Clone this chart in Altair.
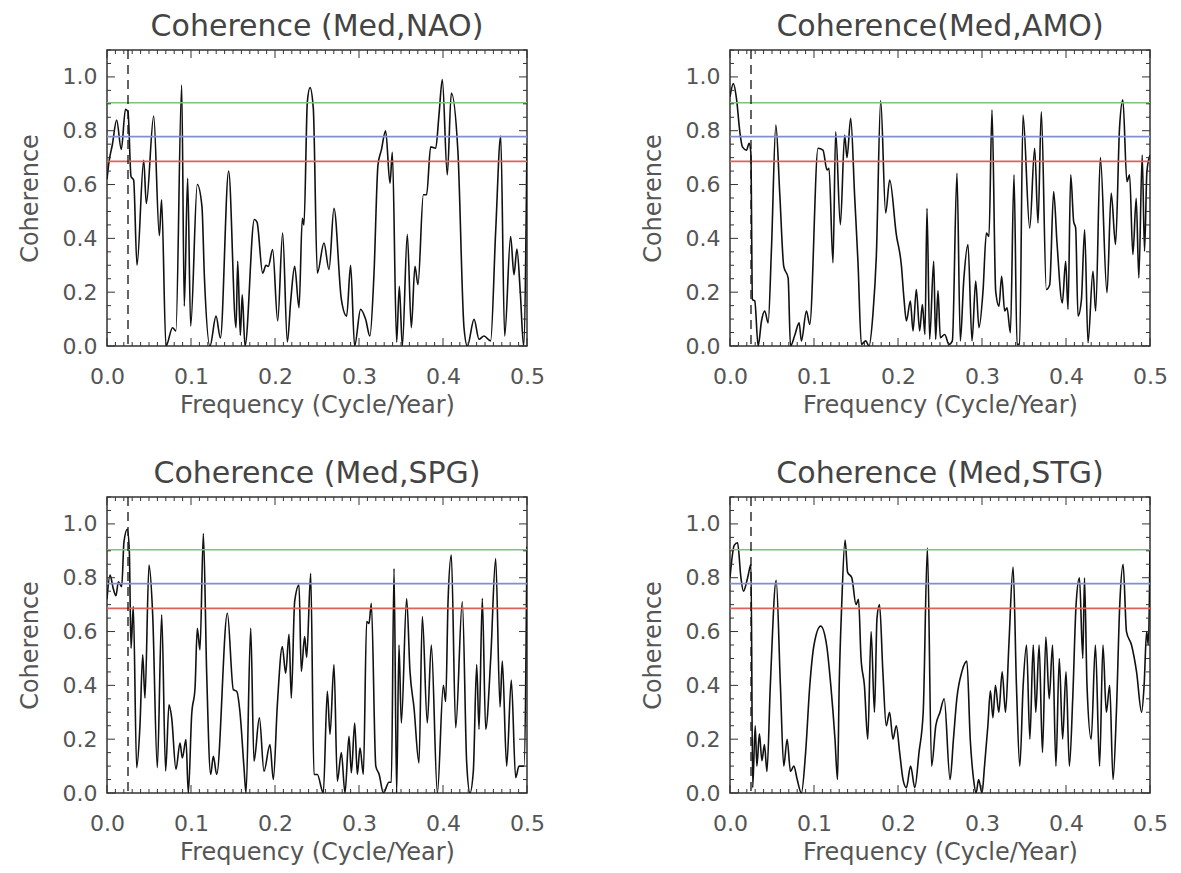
import altair as alt
import pandas as pd

FONT = "DejaVu Sans"
TEXT = "#555555"
W, H = 420, 296

TITLES = ["Coherence (Med,NAO)", "Coherence(Med,AMO)", "Coherence (Med,SPG)", "Coherence (Med,STG)"]

nao_f = [0.0, 0.0024, 0.0063, 0.0115, 0.017, 0.022, 0.025, 0.0286, 0.0317, 0.0357, 0.0437, 0.0468, 0.0556, 0.0623, 0.065, 0.0702, 0.078, 0.082, 0.0889, 0.092, 0.096, 0.0996, 0.1075, 0.113, 0.116, 0.1226, 0.1298, 0.135, 0.1448, 0.1536, 0.1556, 0.1587, 0.161, 0.1643, 0.1754, 0.1786, 0.1853, 0.1893, 0.192, 0.1972, 0.2032, 0.2091, 0.2147, 0.2187, 0.2234, 0.2286, 0.2325, 0.2345, 0.2385, 0.2417, 0.2456, 0.2504, 0.2583, 0.2643, 0.2702, 0.279, 0.2853, 0.29, 0.2948, 0.3019, 0.3079, 0.313, 0.3178, 0.3226, 0.3266, 0.3317, 0.3369, 0.3397, 0.3448, 0.348, 0.3516, 0.3575, 0.3623, 0.3666, 0.3702, 0.3766, 0.3805, 0.3853, 0.3913, 0.3952, 0.3992, 0.4051, 0.4099, 0.4178, 0.425, 0.429, 0.437, 0.4429, 0.4488, 0.4567, 0.4627, 0.4687, 0.4734, 0.4805, 0.4845, 0.488, 0.492, 0.496, 0.5]
nao_c = [0.62, 0.685, 0.747, 0.84, 0.73, 0.88, 0.87, 0.63, 0.617, 0.30, 0.69, 0.53, 0.855, 0.41, 0.543, 0.0, 0.068, 0.056, 0.97, 0.148, 0.623, 0.074, 0.60, 0.52, 0.253, 0.0, 0.111, 0.03, 0.65, 0.068, 0.315, 0.04, 0.19, 0.0, 0.47, 0.46, 0.271, 0.30, 0.296, 0.358, 0.093, 0.42, 0.015, 0.167, 0.296, 0.142, 0.475, 0.45, 0.907, 0.96, 0.883, 0.271, 0.383, 0.284, 0.512, 0.173, 0.111, 0.30, 0.0, 0.136, 0.099, 0.037, 0.265, 0.673, 0.728, 0.80, 0.605, 0.72, 0.015, 0.222, 0.0, 0.414, 0.068, 0.296, 0.228, 0.562, 0.562, 0.74, 0.735, 0.858, 0.99, 0.636, 0.94, 0.72, 0.068, 0.0, 0.099, 0.025, 0.037, 0.019, 0.426, 0.78, 0.037, 0.407, 0.265, 0.36, 0.2, 0.0, 0.75]

amo_f = [0.0, 0.004, 0.0077, 0.0117, 0.0148, 0.0196, 0.0228, 0.0248, 0.0267, 0.0295, 0.0335, 0.0375, 0.0414, 0.0454, 0.0494, 0.0546, 0.0593, 0.064, 0.0692, 0.072, 0.0771, 0.0823, 0.085, 0.091, 0.0949, 0.1048, 0.1107, 0.1155, 0.1179, 0.1226, 0.1258, 0.1314, 0.1365, 0.1393, 0.1437, 0.1484, 0.1524, 0.1564, 0.1616, 0.1655, 0.1702, 0.1742, 0.1794, 0.1853, 0.1901, 0.198, 0.204, 0.207, 0.21, 0.2147, 0.2179, 0.2218, 0.2258, 0.229, 0.2321, 0.2345, 0.2377, 0.2425, 0.2448, 0.2476, 0.2504, 0.2556, 0.2607, 0.2647, 0.2702, 0.2742, 0.2782, 0.2833, 0.2881, 0.2925, 0.2964, 0.3012, 0.3052, 0.3083, 0.3119, 0.3163, 0.3202, 0.3234, 0.327, 0.3298, 0.3338, 0.3381, 0.3417, 0.3448, 0.3488, 0.3568, 0.3627, 0.3667, 0.3706, 0.3766, 0.3806, 0.3853, 0.3893, 0.3956, 0.3996, 0.4024, 0.4056, 0.4091, 0.4115, 0.4143, 0.4183, 0.4222, 0.4262, 0.4321, 0.4353, 0.4409, 0.4488, 0.4538, 0.459, 0.4637, 0.4677, 0.4725, 0.4757, 0.4796, 0.4836, 0.4867, 0.4907, 0.4935, 0.4963, 0.5]
amo_c = [0.926, 0.975, 0.92, 0.796, 0.74, 0.728, 0.753, 0.72, 0.173, 0.167, 0.0, 0.093, 0.13, 0.086, 0.364, 0.821, 0.562, 0.296, 0.253, 0.0, 0.04, 0.086, 0.019, 0.13, 0.08, 0.735, 0.728, 0.654, 0.66, 0.309, 0.796, 0.451, 0.784, 0.70, 0.846, 0.556, 0.309, 0.006, 0.019, 0.0, 0.12, 0.333, 0.912, 0.494, 0.617, 0.414, 0.30, 0.18, 0.093, 0.167, 0.056, 0.21, 0.056, 0.154, 0.043, 0.512, 0.025, 0.315, 0.025, 0.206, 0.031, 0.043, 0.006, 0.019, 0.642, 0.019, 0.241, 0.377, 0.019, 0.241, 0.068, 0.204, 0.42, 0.407, 0.877, 0.204, 0.148, 0.259, 0.13, 0.142, 0.049, 0.636, 0.006, 0.006, 0.858, 0.438, 0.735, 0.457, 0.87, 0.21, 0.228, 0.574, 0.383, 0.16, 0.315, 0.136, 0.636, 0.463, 0.438, 0.111, 0.17, 0.432, 0.012, 0.278, 0.13, 0.70, 0.198, 0.568, 0.377, 0.809, 0.915, 0.611, 0.636, 0.34, 0.549, 0.253, 0.71, 0.352, 0.648, 0.71]

spg_f = [0.0, 0.0036, 0.0075, 0.0107, 0.0135, 0.0175, 0.0202, 0.0242, 0.0266, 0.0286, 0.0313, 0.0353, 0.0393, 0.0425, 0.0452, 0.05, 0.0544, 0.0599, 0.0651, 0.0698, 0.0738, 0.077, 0.0821, 0.0869, 0.0897, 0.094, 0.0968, 0.1008, 0.1048, 0.1075, 0.1107, 0.1147, 0.1187, 0.1234, 0.1266, 0.1306, 0.1433, 0.1504, 0.1544, 0.1583, 0.1631, 0.1655, 0.1711, 0.175, 0.1814, 0.1869, 0.194, 0.198, 0.2028, 0.2087, 0.2127, 0.2167, 0.2194, 0.2234, 0.2286, 0.2313, 0.2353, 0.2377, 0.2425, 0.2464, 0.2504, 0.2575, 0.2623, 0.2655, 0.2702, 0.2742, 0.279, 0.2833, 0.2881, 0.2909, 0.2949, 0.298, 0.3012, 0.3052, 0.3091, 0.3119, 0.3147, 0.32, 0.324, 0.329, 0.3357, 0.3385, 0.3417, 0.3448, 0.3476, 0.3504, 0.3567, 0.3607, 0.3655, 0.3714, 0.3754, 0.3813, 0.3861, 0.3933, 0.4004, 0.4032, 0.406, 0.4099, 0.4151, 0.423, 0.4282, 0.4321, 0.4361, 0.4401, 0.4429, 0.4468, 0.4508, 0.4568, 0.4627, 0.4679, 0.4706, 0.4758, 0.4813, 0.4865, 0.4905, 0.4964, 0.5]
spg_c = [0.72, 0.81, 0.759, 0.733, 0.785, 0.767, 0.933, 0.98, 0.896, 0.538, 0.693, 0.094, 0.255, 0.514, 0.353, 0.847, 0.662, 0.094, 0.662, 0.082, 0.328, 0.279, 0.088, 0.186, 0.13, 0.199, 0.0, 0.291, 0.39, 0.612, 0.532, 0.964, 0.44, 0.069, 0.136, 0.069, 0.668, 0.384, 0.378, 0.30, 0.094, 0.0, 0.612, 0.118, 0.279, 0.081, 0.18, 0.05, 0.328, 0.544, 0.445, 0.59, 0.353, 0.711, 0.773, 0.452, 0.581, 0.504, 0.816, 0.069, 0.069, 0.0, 0.378, 0.218, 0.477, 0.044, 0.15, 0.0, 0.211, 0.075, 0.26, 0.069, 0.168, 0.069, 0.637, 0.63, 0.705, 0.1, 0.069, 0.0, 0.04, 0.04, 0.834, 0.0, 0.55, 0.26, 0.723, 0.452, 0.316, 0.112, 0.656, 0.26, 0.55, 0.0, 0.40, 0.34, 0.711, 0.884, 0.243, 0.711, 0.112, 0.0, 0.081, 0.477, 0.237, 0.723, 0.237, 0.50, 0.871, 0.32, 0.49, 0.1, 0.42, 0.057, 0.1, 0.1, 0.915]

stg_f = [0.0, 0.005, 0.009, 0.013, 0.016, 0.021, 0.025, 0.027, 0.030, 0.032, 0.035, 0.038, 0.041, 0.044, 0.048, 0.055, 0.060, 0.064, 0.068, 0.072, 0.076, 0.080, 0.085, 0.090, 0.095, 0.100, 0.108, 0.115, 0.120, 0.125, 0.128, 0.130, 0.133, 0.137, 0.140, 0.145, 0.150, 0.153, 0.156, 0.160, 0.164, 0.168, 0.172, 0.175, 0.178, 0.182, 0.186, 0.190, 0.194, 0.198, 0.202, 0.206, 0.210, 0.215, 0.220, 0.225, 0.230, 0.235, 0.240, 0.245, 0.250, 0.255, 0.262, 0.266, 0.270, 0.276, 0.282, 0.286, 0.290, 0.293, 0.296, 0.300, 0.303, 0.307, 0.310, 0.313, 0.316, 0.320, 0.324, 0.328, 0.332, 0.337, 0.341, 0.345, 0.349, 0.353, 0.357, 0.361, 0.364, 0.368, 0.372, 0.376, 0.380, 0.384, 0.388, 0.392, 0.396, 0.400, 0.404, 0.408, 0.412, 0.416, 0.420, 0.422, 0.425, 0.430, 0.435, 0.440, 0.444, 0.448, 0.452, 0.456, 0.460, 0.464, 0.468, 0.472, 0.478, 0.484, 0.490, 0.493, 0.496, 0.498, 0.5]
stg_c = [0.80, 0.92, 0.93, 0.80, 0.75, 0.80, 0.85, 0.02, 0.25, 0.10, 0.22, 0.12, 0.18, 0.08, 0.40, 0.79, 0.40, 0.10, 0.20, 0.08, 0.10, 0.05, 0.0, 0.15, 0.40, 0.55, 0.62, 0.55, 0.40, 0.20, 0.05, 0.40, 0.70, 0.94, 0.82, 0.80, 0.70, 0.72, 0.50, 0.40, 0.20, 0.60, 0.30, 0.65, 0.70, 0.45, 0.25, 0.30, 0.20, 0.25, 0.15, 0.05, 0.02, 0.10, 0.02, 0.15, 0.30, 0.91, 0.10, 0.25, 0.30, 0.35, 0.05, 0.20, 0.35, 0.45, 0.49, 0.20, 0.05, 0.0, 0.05, 0.0, 0.10, 0.25, 0.38, 0.28, 0.40, 0.30, 0.45, 0.30, 0.55, 0.84, 0.40, 0.10, 0.40, 0.55, 0.20, 0.55, 0.30, 0.55, 0.15, 0.58, 0.35, 0.55, 0.10, 0.50, 0.20, 0.45, 0.10, 0.35, 0.70, 0.80, 0.50, 0.80, 0.40, 0.20, 0.55, 0.10, 0.55, 0.30, 0.40, 0.05, 0.30, 0.70, 0.85, 0.60, 0.55, 0.45, 0.30, 0.40, 0.60, 0.55, 0.90]

LEVELS = [0.904, 0.778, 0.686]
LEVEL_COLORS = ["#7cc47c", "#7f8fd0", "#dc625c"]
CUTOFF = [0.025]
X_MAJOR = [0.0, 0.1, 0.2, 0.3, 0.4, 0.5]
Y_MAJOR = [0.0, 0.2, 0.4, 0.6, 0.8, 1.0]
X_MINOR = [round(i * 0.01, 2) for i in range(51) if i % 10 != 0]
Y_MINOR = [round(i * 0.05, 2) for i in range(23) if i % 4 != 0]
MAJOR_LEN, MINOR_LEN = 8, 4

XS = alt.Scale(domain=[0, 0.5], nice=False, zero=False, padding=0)
YS = alt.Scale(domain=[0, 1.1], nice=False, zero=False, padding=0)
X_AXIS = alt.Axis(values=X_MAJOR, format=".1f", title="Frequency (Cycle/Year)", labelFlush=False,
                  labelPadding=20, titlePadding=6, ticks=False, domain=False, grid=False)
Y_AXIS = alt.Axis(values=Y_MAJOR, format=".1f", title="Coherence", labelFlush=False,
                  labelPadding=10, titlePadding=20, ticks=False, domain=False, grid=False)


def frame_ticks():
    layers = []
    for vals, ln in ((X_MAJOR, MAJOR_LEN), (X_MINOR, MINOR_LEN)):
        d = pd.DataFrame({"t": vals})
        for y0, y1 in ((H, H - ln), (0, ln)):
            layers.append(alt.Chart(d).mark_rule(color="#333333", strokeWidth=1).encode(
                x=alt.X("t:Q", scale=XS, axis=X_AXIS), y=alt.value(y0), y2=alt.value(y1)))
    for vals, ln in ((Y_MAJOR, MAJOR_LEN), (Y_MINOR, MINOR_LEN)):
        d = pd.DataFrame({"t": vals})
        for x0, x1 in ((0, ln), (W, W - ln)):
            layers.append(alt.Chart(d).mark_rule(color="#333333", strokeWidth=1).encode(
                y=alt.Y("t:Q", scale=YS, axis=Y_AXIS), x=alt.value(x0), x2=alt.value(x1)))
    return layers


def panel(title, f, c):
    curve = alt.Chart(pd.DataFrame({"f": f, "c": c})).mark_line(
        color="#111111", strokeWidth=1.6, interpolate="monotone", clip=True
    ).encode(
        x=alt.X("f:Q", scale=XS, axis=X_AXIS),
        y=alt.Y("c:Q", scale=YS, axis=Y_AXIS),
    )
    levels = alt.Chart(pd.DataFrame({"lev": LEVELS, "col": LEVEL_COLORS})).mark_rule(strokeWidth=1.6).encode(
        y=alt.Y("lev:Q", scale=YS, axis=Y_AXIS),
        color=alt.Color("col:N", scale=None, legend=None),
    )
    dash = alt.Chart(pd.DataFrame({"cut": CUTOFF})).mark_rule(
        color="#111111", strokeDash=[9, 6], strokeWidth=1.3
    ).encode(x=alt.X("cut:Q", scale=XS, axis=X_AXIS))

    return alt.layer(curve, levels, dash, *frame_ticks()).properties(
        width=W, height=H,
        title=alt.TitleParams(title, fontSize=30, font=FONT, color="#444444", fontWeight="normal", offset=7),
    )


panels = [
    panel(TITLES[0], nao_f, nao_c),
    panel(TITLES[1], amo_f, amo_c),
    panel(TITLES[2], spg_f, spg_c),
    panel(TITLES[3], stg_f, stg_c),
]

chart = alt.concat(*panels, columns=2, spacing={"row": 40, "column": 94}).properties(
    padding={"left": 9, "top": 3, "right": 2, "bottom": 0}
).configure_view(
    stroke="#333333", strokeWidth=1.5
).configure_axis(
    labelFont=FONT, labelFontSize=22, labelColor=TEXT,
    titleFont=FONT, titleFontSize=24, titleColor=TEXT, titleFontWeight="normal",
)

chart.save("out.html", embed_options={"renderer": "svg", "actions": False})
